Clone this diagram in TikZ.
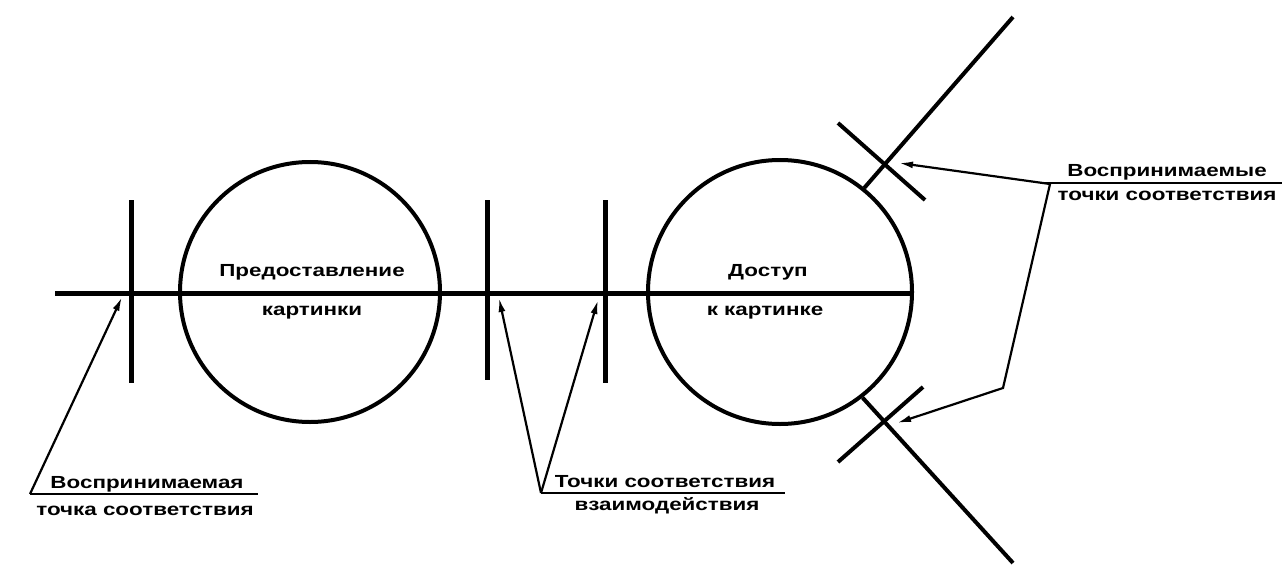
\documentclass[tikz,border=0pt]{standalone}
\usepackage{fontspec}
\setmainfont{Liberation Sans}
\newfontfamily\lblfont[FakeStretch=1.28,UprightFont={* Bold}]{Liberation Sans}
\usetikzlibrary{arrows.meta}
\tikzset{
  heavy/.style={line width=5pt},
  medium/.style={line width=4pt},
  thin/.style={line width=2.5pt},
  ptr/.style={line width=2.2pt,-{Latex[length=14pt,width=7pt]}},
  txt/.style={inner sep=0pt,font=\lblfont\fontsize{17.5}{19}\selectfont},
}
\begin{document}
\begin{tikzpicture}[x=1pt,y=-1pt]
\useasboundingbox (0,0) rectangle (1282,567);
% circles
\node[draw,medium,circle,minimum size=260pt,inner sep=0pt] (c1) at (310,292) {};
\node[draw,medium,circle,minimum size=264pt,inner sep=0pt] (c2) at (780,292) {};
% main horizontal line
\coordinate (hstart) at (55,293);
\draw[heavy] (hstart) -- (c2.east |- hstart);
% vertical ticks
\coordinate (t1a) at (131,200); \coordinate (t1b) at (131,383);
\coordinate (t2a) at (487,200); \coordinate (t2b) at (487,380);
\coordinate (t3a) at (605,200); \coordinate (t3b) at (605,383);
\draw[heavy] (t1a) -- (t1b);
\draw[heavy] (t2a) -- (t2b);
\draw[heavy] (t3a) -- (t3b);
% diagonals
\coordinate (uend) at (1013,17);
\coordinate (lend) at (1013,563);
\draw[medium] (c2.51) -- (uend);
\draw[medium] (c2.-52) -- (lend);
\coordinate (ux1) at (838,123); \coordinate (ux2) at (925,200);
\coordinate (lx1) at (923,387); \coordinate (lx2) at (838,462);
\draw[medium] (ux1) -- (ux2);
\draw[medium] (lx1) -- (lx2);
% circle texts
\node[txt] (p1) at (312,272) {Предоставление};
\node[txt] (p2) at (312,313) {картинки};
\node[txt] (d1) at (768,272) {Доступ};
\node[txt] (d2) at (765,313) {к картинке};
% labels
\node[txt] (l1a) at (147,484) {Воспринимаемая};
\node[txt] (l1b) at (145,511) {точка соответствия};
\node[txt] (l2a) at (665,482) {Точки соответствия};
\node[txt] (l2b) at (667,506) {взаимодействия};
\node[txt] (l3a) at (1167,172) {Воспринимаемые};
\node[txt] (l3b) at (1167,196) {точки соответствия};
% underlines
\coordinate (u1a) at (30,494); \coordinate (u1b) at (258,494);
\coordinate (u2a) at (541,493); \coordinate (u2b) at (785,493);
\coordinate (u3a) at (1040,183); \coordinate (u3b) at (1282,183);
\draw[thin] (u1a) -- (u1b);
\draw[thin] (u2a) -- (u2b);
\draw[thin] (u3a) -- (u3b);
% arrows
\coordinate (tip1) at (122,297);
\coordinate (tip2) at (499,298);
\coordinate (tip3) at (598,300);
\coordinate (tip4) at (899,163);
\coordinate (tip5) at (897,423);
\coordinate (bend) at (1003,388);
\coordinate (rv) at (1050,184);
\draw[ptr] (u1a) -- (tip1);
\draw[ptr] (u2a) -- (tip2);
\draw[ptr] (u2a) -- (tip3);
\draw[ptr] (rv) -- (tip4);
\draw[ptr] (rv) -- (bend) -- (tip5);
\end{tikzpicture}
\end{document}
